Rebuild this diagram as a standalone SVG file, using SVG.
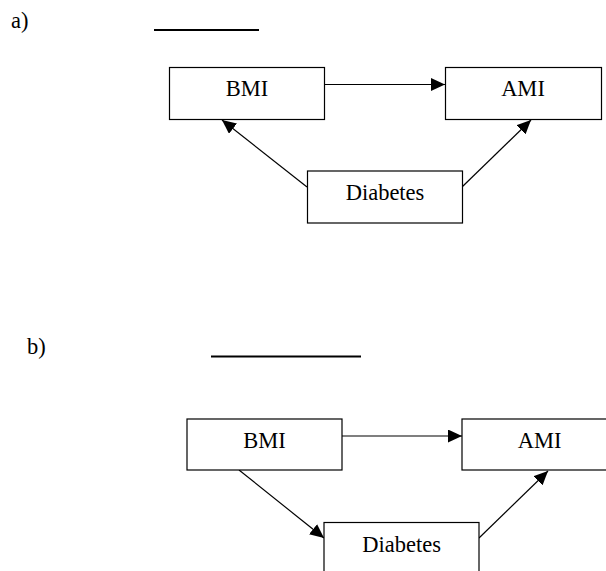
<svg xmlns="http://www.w3.org/2000/svg" width="606" height="571" viewBox="0 0 606 571">
<style>
.box{fill:#fff;stroke:#000;stroke-width:1.2}
.lbl{font-family:"Liberation Serif","Times New Roman",serif;font-size:22.5px;fill:#000}
.c{text-anchor:middle}
.edge{stroke:#000;stroke-width:1.2;fill:none;marker-end:url(#ah)}
.ul{stroke:#000;stroke-width:2}
</style>
<defs>
<marker id="ah" markerUnits="userSpaceOnUse" markerWidth="15" markerHeight="13" viewBox="0 0 15 13" refX="14" refY="6.5" orient="auto">
<path d="M0,0 L14,6.5 L0,13 z" fill="#000"/>
</marker>
</defs>
<rect width="606" height="571" fill="#fff"/>
<g id="panel-a-label"><text class="lbl" x="11" y="28">a)</text><line class="ul" x1="154" y1="30" x2="259" y2="30"/></g>
<g id="panel-b-label"><text class="lbl" x="27" y="354">b)</text><line class="ul" x1="211" y1="356.5" x2="361" y2="356.5"/></g>
<g id="connectors">
<line class="edge" x1="325" y1="84.5" x2="445" y2="84.5"/>
<line class="edge" x1="307" y1="187" x2="222" y2="120"/>
<line class="edge" x1="462" y1="187" x2="531" y2="120"/>
<line class="edge" x1="342" y1="436" x2="462" y2="436"/>
<line class="edge" x1="239" y1="470" x2="324" y2="538"/>
<line class="edge" x1="479" y1="538" x2="548" y2="471"/>
</g>
<g id="a-bmi"><rect class="box" x="169.5" y="67.5" width="155" height="52"/><text class="lbl c" x="247" y="95.7">BMI</text></g>
<g id="a-ami"><rect class="box" x="445.5" y="67.5" width="156" height="52"/><text class="lbl c" x="523" y="95.7">AMI</text></g>
<g id="a-diabetes"><rect class="box" x="307.5" y="171" width="155" height="52"/><text class="lbl c" x="385" y="200">Diabetes</text></g>
<g id="b-bmi"><rect class="box" x="187" y="419" width="155" height="51"/><text class="lbl c" x="264.5" y="448.3">BMI</text></g>
<g id="b-ami"><rect class="box" x="462" y="419" width="155" height="51"/><text class="lbl c" x="539.7" y="448.3">AMI</text></g>
<g id="b-diabetes"><rect class="box" x="324" y="522.5" width="155" height="52"/><text class="lbl c" x="401.7" y="551.7">Diabetes</text></g>
</svg>
